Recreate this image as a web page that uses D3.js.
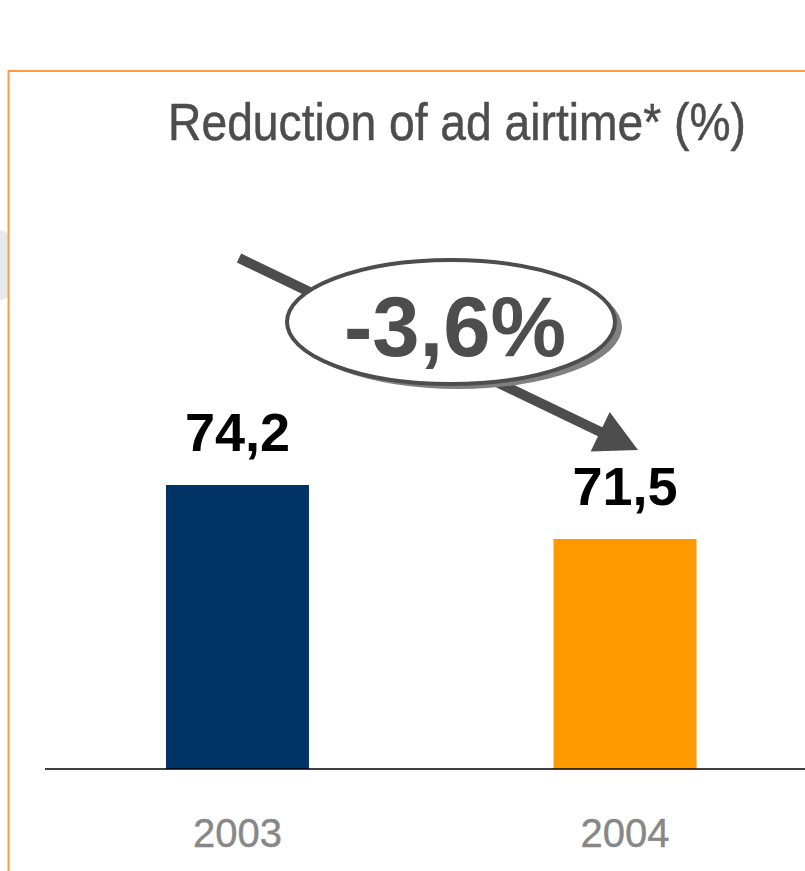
<!DOCTYPE html>
<html>
<head>
<meta charset="utf-8">
<script src="https://cdn.jsdelivr.net/npm/d3@7"></script>
<style>
  html, body { margin: 0; padding: 0; background: #ffffff; }
  svg { display: block; }
</style>
</head>
<body>
<svg id="chart" width="805" height="871"></svg>
<script>
// Chart data
const years = ["2003", "2004"];
const airtime = [74.2, 71.5];
const barColors = ["#003366", "#ff9900"];
const titleText = "Reduction of ad airtime* (%)";
const changeLabel = "-3,6%";

const svg = d3.select("#chart");
const W = 805, H = 871;

// European number format (decimal comma)
const locale = d3.formatLocale({ decimal: ",", thousands: ".", grouping: [3], currency: ["", "€"] });
const fmt = locale.format(".1f");

// Scales
const x = d3.scaleBand()
  .domain(years)
  .range([51.25, 811.25])
  .paddingInner(0.631)
  .paddingOuter(0.296);

const y = d3.scaleLinear()
  .domain([60, 80])
  .range([769, 369]);

// Light grey decoration at the left edge
svg.append("path")
  .attr("d", "M0,230 L3,230.5 Q7,232 8,235 L8,296 Q7,299 3,299.5 L0,300 Z")
  .attr("fill", "#e6e9ec");

// Orange frame
svg.append("path")
  .attr("d", `M8.5,${H} L8.5,71 L${W},71`)
  .attr("fill", "none")
  .attr("stroke", "#ff9d3c")
  .attr("stroke-width", 2);

// Title in a condensed style: tall glyphs squeezed horizontally to the target width
const titleG = svg.append("g").attr("transform", "translate(457,139.5)");
const title = titleG.append("text")
  .attr("x", 0)
  .attr("y", 0)
  .attr("text-anchor", "middle")
  .attr("font-family", "'Liberation Sans Narrow', 'Arial Narrow', 'Liberation Sans', Arial, sans-serif")
  .attr("font-size", 52)
  .attr("fill", "#4d4d4d")
  .attr("stroke", "#4d4d4d")
  .attr("stroke-width", 0.5)
  .text(titleText);
const natural = title.node().getComputedTextLength();
const squeeze = 578 / natural;
titleG.attr("transform", `translate(457,139.5) scale(${squeeze},1)`);

// Bars
svg.selectAll("rect.bar")
  .data(years)
  .join("rect")
  .attr("class", "bar")
  .attr("x", d => x(d))
  .attr("width", x.bandwidth())
  .attr("y", (d, i) => y(airtime[i]))
  .attr("height", (d, i) => y(60) - y(airtime[i]))
  .attr("fill", (d, i) => barColors[i]);

// Baseline axis
const xAxis = d3.axisBottom(x).tickSize(0).tickPadding(0);
const axisG = svg.append("g")
  .attr("transform", `translate(0,${y(60)})`)
  .call(xAxis);
axisG.select(".domain").remove();
axisG.append("line")
  .attr("x1", 45).attr("x2", W)
  .attr("y1", 0).attr("y2", 0)
  .attr("stroke", "#000")
  .attr("stroke-width", 1.6);
axisG.selectAll(".tick text")
  .attr("dy", null)
  .attr("y", 78)
  .attr("font-family", "'Liberation Sans', Arial, sans-serif")
  .attr("font-size", 40)
  .attr("fill", "#878787")
  .attr("stroke", "#878787")
  .attr("stroke-width", 0.4);

// Value labels above bars
svg.selectAll("text.value")
  .data(years)
  .join("text")
  .attr("class", "value")
  .attr("x", d => x(d) + x.bandwidth() / 2)
  .attr("y", (d, i) => y(airtime[i]) - 34)
  .attr("text-anchor", "middle")
  .attr("font-family", "'Liberation Sans', Arial, sans-serif")
  .attr("font-weight", "bold")
  .attr("font-size", 54)
  .attr("fill", "#000")
  .text((d, i) => fmt(airtime[i]));

// Trend arrow from above the first bar to above the second
const start = [239, 258];
const tip = [638, 450];
const dx = tip[0] - start[0], dy = tip[1] - start[1];
const len = Math.hypot(dx, dy);
const ux = dx / len, uy = dy / len;
const headLen = 42, headHalf = 22;
const base = [tip[0] - ux * headLen, tip[1] - uy * headLen];

svg.append("line")
  .attr("x1", start[0]).attr("y1", start[1])
  .attr("x2", base[0] + ux * 4).attr("y2", base[1] + uy * 4)
  .attr("stroke", "#4d4d4d")
  .attr("stroke-width", 10);

svg.append("path")
  .attr("d", `M${tip[0]},${tip[1]} L${base[0] - uy * headHalf},${base[1] + ux * headHalf} L${base[0] + uy * headHalf},${base[1] - ux * headHalf} Z`)
  .attr("fill", "#4d4d4d");

// Callout ellipse with drop shadow
const cx = 451, cy = 322, rx = 164, ry = 62;
svg.append("ellipse")
  .attr("cx", cx + 7).attr("cy", cy + 5)
  .attr("rx", rx).attr("ry", ry)
  .attr("fill", "#808080");
svg.append("ellipse")
  .attr("cx", cx).attr("cy", cy)
  .attr("rx", rx).attr("ry", ry)
  .attr("fill", "#ffffff")
  .attr("stroke", "#4d4d4d")
  .attr("stroke-width", 4);

svg.append("text")
  .attr("x", 455)
  .attr("y", 356)
  .attr("text-anchor", "middle")
  .attr("font-family", "'Liberation Sans', Arial, sans-serif")
  .attr("font-weight", "bold")
  .attr("font-size", 85)
  .attr("fill", "#4d4d4d")
  .text(changeLabel);
</script>
</body>
</html>
